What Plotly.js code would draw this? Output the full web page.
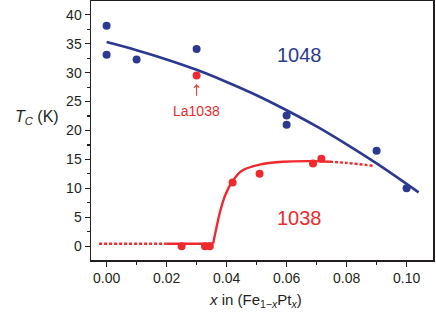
<!DOCTYPE html>
<html>
<head>
<meta charset="utf-8">
<script src="https://cdn.plot.ly/plotly-3.0.1.min.js"></script>
<style>html,body{margin:0;padding:0;background:#fff;}#chart{width:436px;height:321px;}</style>
</head>
<body>
<div id="chart"></div>
<script>
// Measured points
const blueX = [0.000, 0.000, 0.010, 0.030, 0.060, 0.060, 0.090, 0.100];
const blueY = [38.1, 33.1, 32.3, 34.1, 22.6, 21.0, 16.5, 10.0];
const laX = [0.030];
const laY = [29.5];
const redX = [0.025, 0.0328, 0.0344, 0.042, 0.051, 0.0688, 0.0716];
const redY = [0.0, 0.0, 0.0, 11.0, 12.5, 14.3, 15.1];

// Guide curves
const blueFitX = [0.000, 0.010, 0.020, 0.030, 0.040, 0.050, 0.060, 0.070, 0.080, 0.090, 0.104];
const blueFitY = [35.3, 33.9, 32.3, 30.5, 28.4, 26.1, 23.5, 20.7, 17.6, 14.3, 9.3];
const redFlatX = [0.020, 0.0355];
const redFlatY = [0.4, 0.4];
const redRiseX = [0.0355, 0.0378, 0.0396, 0.0418, 0.045, 0.051, 0.0588, 0.0688, 0.0744];
const redRiseY = [0.4, 5.9, 8.9, 11.1, 13.0, 14.1, 14.6, 14.7, 14.6];
const redDotLX = [-0.0025, 0.020];
const redDotLY = [0.4, 0.4];
const redDotRX = [0.0744, 0.080, 0.0889];
const redDotRY = [14.6, 14.4, 13.9];

const xTicks = [0.00, 0.02, 0.04, 0.06, 0.08, 0.10];
const xTickText = ['0.00', '0.02', '0.04', '0.06', '0.08', '0.10'];
const yTicks = [0, 5, 10, 15, 20, 25, 30, 35, 40];

const BLUE = '#2b3990';
const RED = '#ee2a2f';
const INK = '#231f20';
const FONT = 'Liberation Sans, Arial, sans-serif';

const traces = [
  {x: blueFitX, y: blueFitY, mode: 'lines', line: {color: BLUE, width: 2.6, shape: 'spline'}, hoverinfo: 'skip'},
  {x: redDotLX, y: redDotLY, mode: 'lines', line: {color: RED, width: 2.4, dash: '3px,2px'}, hoverinfo: 'skip'},
  {x: redFlatX, y: redFlatY, mode: 'lines', line: {color: RED, width: 2.4}, hoverinfo: 'skip'},
  {x: redRiseX, y: redRiseY, mode: 'lines', line: {color: RED, width: 2.4, shape: 'spline', smoothing: 0.8}, hoverinfo: 'skip'},
  {x: redDotRX, y: redDotRY, mode: 'lines', line: {color: RED, width: 2.4, dash: '3px,2px', shape: 'spline'}, hoverinfo: 'skip'},
  {x: blueX, y: blueY, mode: 'markers', marker: {color: BLUE, size: 8}},
  {x: redX, y: redY, mode: 'markers', marker: {color: RED, size: 8}},
  {x: laX, y: laY, mode: 'markers', marker: {color: RED, size: 8}}
];

const axisCommon = {
  showline: true, linecolor: INK, linewidth: 1.5, mirror: true,
  ticks: 'outside', ticklen: 5, tickwidth: 1.2, tickcolor: INK,
  showgrid: false, zeroline: false,
  tickfont: {family: FONT, size: 14, color: INK}
};

const layout = {
  width: 436, height: 321,
  margin: {l: 91, r: 3, t: 1, b: 61},
  paper_bgcolor: '#fff', plot_bgcolor: '#fff',
  showlegend: false,
  xaxis: Object.assign({}, axisCommon, {
    range: [-0.0052, 0.1088], tickvals: xTicks, ticktext: xTickText,
    minor: {ticks: 'outside', ticklen: 3, dtick: 0.01, tick0: 0, tickcolor: INK, tickwidth: 1.2}
  }),
  yaxis: Object.assign({}, axisCommon, {
    range: [-2.4, 42.4], tickvals: yTicks,
    minor: {ticks: 'outside', ticklen: 3, dtick: 2.5, tick0: 0, tickcolor: INK, tickwidth: 1.2}
  }),
  annotations: [
    {xref: 'x', yref: 'y', x: 0.0644, y: 33.0, text: '1048', showarrow: false,
     font: {family: FONT, size: 20, color: BLUE}},
    {xref: 'x', yref: 'y', x: 0.0644, y: 4.9, text: '1038', showarrow: false,
     font: {family: FONT, size: 20, color: RED}},
    {xref: 'x', yref: 'y', x: 0.030, y: 23.4, text: 'La1038', showarrow: false,
     font: {family: FONT, size: 14, color: RED}},
    {xref: 'x', yref: 'y', x: 0.030, y: 28.0, text: '', showarrow: true,
     ax: 0, ay: 13, arrowhead: 4, arrowsize: 1, arrowwidth: 1, arrowcolor: RED, standoff: 0},
    {xref: 'paper', yref: 'paper', x: -0.157, y: 0.55, xanchor: 'center', yanchor: 'middle',
     text: '<i>T</i><sub><i>C</i></sub> (K)', showarrow: false,
     font: {family: FONT, size: 16, color: INK}},
    {xref: 'paper', yref: 'paper', x: 0.48, y: -0.112, xanchor: 'center', yanchor: 'top',
     text: '<i>x</i> in (Fe<sub>1\u2212<i>x</i></sub>Pt<sub><i>x</i></sub>)', showarrow: false,
     font: {family: FONT, size: 15, color: INK}}
  ]
};

Plotly.newPlot('chart', traces, layout, {staticPlot: true, displayModeBar: false});
</script>
</body>
</html>
